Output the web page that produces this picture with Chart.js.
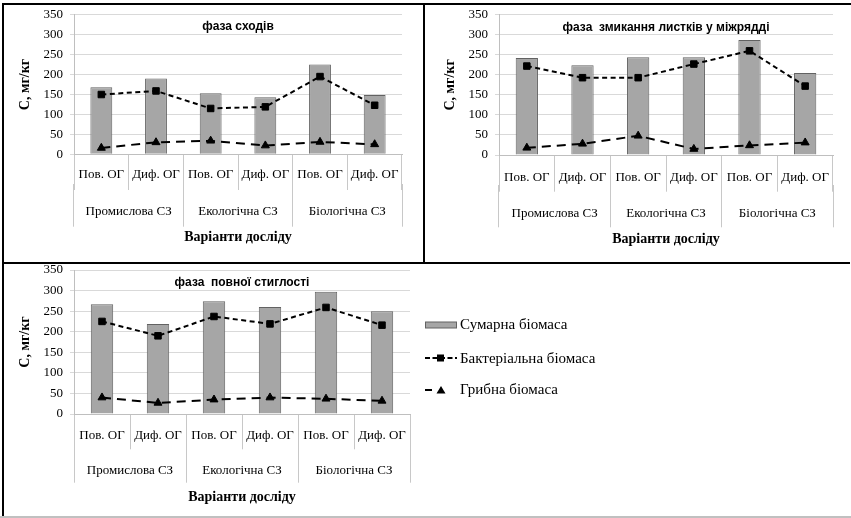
<!DOCTYPE html>
<html><head><meta charset="utf-8">
<script src="https://cdn.jsdelivr.net/npm/chart.js@4"></script>
<style>
html,body{margin:0;padding:0;background:#fff;}
body{width:851px;height:518px;position:relative;overflow:hidden;font-family:'Liberation Serif',serif;}
canvas{position:absolute;}
.ln{position:absolute;z-index:3;}
.lg{position:absolute;left:424px;height:20px;display:flex;align-items:center;font-size:15px;color:#000;white-space:nowrap;}
.lg svg{width:36px;height:14px;display:block;}
</style></head><body>
<canvas id="c1" width="418" height="262" style="left:5px;top:0px"></canvas>
<canvas id="c2" width="425" height="262" style="left:426px;top:0px"></canvas>
<canvas id="c3" width="420" height="262" style="left:5px;top:255px"></canvas>
<div class="ln" style="left:3px;top:3px;width:848px;height:2px;background:#000"></div>
<div class="ln" style="left:2px;top:3px;width:2px;height:514px;background:#000"></div>
<div class="ln" style="left:423px;top:3px;width:2px;height:261px;background:#000"></div>
<div class="ln" style="left:3px;top:262px;width:847px;height:2px;background:#000"></div>
<div class="ln" style="left:0px;top:516px;width:851px;height:2px;background:#c0c0c0"></div>
<div id="legend"></div>
<script>
// ---- data ----
const categories = ['Пов. ОГ', 'Диф. ОГ', 'Пов. ОГ', 'Диф. ОГ', 'Пов. ОГ', 'Диф. ОГ'];
const groups = ['Промислова СЗ', 'Екологічна СЗ', 'Біологічна СЗ'];
const seriesNames = ['Сумарна біомаса', 'Бактеріальна біомаса', 'Грибна біомаса'];
const stageTitles = ['фаза сходів', 'фаза  змикання листків у міжрядді', 'фаза  повної стиглості'];
const xAxisTitle = 'Варіанти досліду';
const yAxisTitle = 'С, мг/кг';
const yMin = 0, yMax = 350, yStep = 50;

const totalStage1 = [168, 190, 153, 143, 225, 149];
const bacterialStage1 = [150, 159, 115, 119, 195, 123];
const fungalStage1 = [16, 30, 34, 22, 31, 25];

const totalStage2 = [242, 224, 244, 244, 287, 205];
const bacterialStage2 = [222, 193, 193, 227, 260, 172];
const fungalStage2 = [18, 28, 48, 15, 24, 31];

const totalStage3 = [267, 219, 274, 260, 297, 250];
const bacterialStage3 = [225, 190, 237, 219, 259, 216];
const fungalStage3 = [40, 27, 35, 40, 37, 32];

// ---- styling ----
Chart.defaults.font.family = "'Liberation Serif', 'Times New Roman', serif";
Chart.defaults.color = '#000';
const barFill = '#a6a6a6', barEdge = '#626262';
const gridCol = '#d9d9d9', catLineCol = '#c8c8c8', axisCol = '#bfbfbf';

function makeChart(id, title, total, bact, fung, g) {
  const W = g.w, H = g.h;
  const lh = 13 * 1.2;
  const tickLenX = g.catLineEnd - g.plotBottom;
  const xH = 30;
  const x2Top = g.plotBottom + xH;
  const tickLenX2 = g.grpLineEnd - x2Top;
  const tPadTop = g.chartTitleY - g.plotTop - 7.2;
  return new Chart(document.getElementById(id), {
    type: 'bar',
    data: {
      labels: categories,
      datasets: [
        {type: 'line', label: seriesNames[1], data: bact, borderColor: '#000', borderWidth: 2,
         borderDash: [5, 3.5], pointStyle: 'rect', pointRadius: 4.6, pointBackgroundColor: '#000',
         pointBorderColor: '#000', pointBorderWidth: 1, tension: 0, fill: false, order: 1},
        {type: 'line', label: seriesNames[2], data: fung, borderColor: '#000', borderWidth: 2,
         borderDash: [9, 6], pointStyle: 'triangle', pointRadius: 4.6, pointBackgroundColor: '#000',
         pointBorderColor: '#000', pointBorderWidth: 1, tension: 0, fill: false, order: 1},
        {type: 'bar', label: seriesNames[0], data: total, backgroundColor: barFill, borderColor: barEdge,
         borderWidth: 1, barPercentage: 0.4, categoryPercentage: 1, order: 2}
      ]
    },
    options: {
      responsive: false, animation: false, devicePixelRatio: 1,
      layout: {padding: {top: g.plotTop, right: W - g.plotRight, bottom: 0, left: 0}},
      plugins: {
        legend: {display: false}, tooltip: {enabled: false},
        title: {display: true, text: title, fullSize: g.fullTitle, color: '#000',
          font: {family: "'Liberation Sans', Arial, sans-serif", weight: 'bold', size: 12, lineHeight: 1.2},
          padding: {top: tPadTop, bottom: -(tPadTop + 14.4)}}
      },
      scales: {
        x: {type: 'category', position: 'bottom', offset: true,
          grid: {offset: true, drawOnChartArea: false, drawTicks: true, tickLength: tickLenX, color: catLineCol},
          border: {display: true, color: axisCol},
          ticks: {font: {size: 13}, padding: g.catLabelY - lh / 2 - g.plotBottom - tickLenX,
            maxRotation: 0, minRotation: 0, autoSkip: false},
          afterFit(s) { s.height = xH; }},
        x2: {type: 'category', position: 'bottom', labels: groups, offset: true,
          grid: {offset: true, drawOnChartArea: false, drawTicks: true, tickLength: tickLenX2, color: catLineCol},
          border: {display: false},
          ticks: {font: {size: 13}, padding: g.grpLabelY - lh / 2 - x2Top - tickLenX2,
            maxRotation: 0, minRotation: 0, autoSkip: false},
          title: {display: true, text: xAxisTitle, font: {size: 14, weight: 'bold'},
            padding: {top: 0, bottom: H - g.titleY - 8.4}},
          afterFit(s) { s.height = H - x2Top; }},
        y: {min: yMin, max: yMax,
          ticks: {stepSize: yStep, padding: 7, font: {size: 13}},
          grid: {color: gridCol, tickLength: 4},
          border: {color: axisCol},
          title: {display: true, text: yAxisTitle, font: {size: 14, weight: 'bold'},
            padding: {top: g.yTitleX - 8.4, bottom: 0}},
          afterFit(s) { s.width = g.plotLeft; }}
      }
    }
  });
}

makeChart('c1', stageTitles[0], totalStage1, bacterialStage1, fungalStage1,
  {w: 418, h: 262, plotTop: 12.3, plotBottom: 154.3, plotLeft: 69, plotRight: 397,
   catLabelY: 174.3, catLineEnd: 190, grpLabelY: 211.7, grpLineEnd: 226.7, titleY: 237.5,
   yTitleX: 20, chartTitleY: 24.3, fullTitle: false});
makeChart('c2', stageTitles[1], totalStage2, bacterialStage2, fungalStage2,
  {w: 425, h: 262, plotTop: 13.3, plotBottom: 155, plotLeft: 73, plotRight: 407,
   catLabelY: 177.3, catLineEnd: 191.7, grpLabelY: 213.3, grpLineEnd: 227.3, titleY: 239.3,
   yTitleX: 24, chartTitleY: 26, fullTitle: false});
makeChart('c3', stageTitles[2], totalStage3, bacterialStage3, fungalStage3,
  {w: 420, h: 262, plotTop: 15, plotBottom: 159, plotLeft: 69, plotRight: 405,
   catLabelY: 180.7, catLineEnd: 194.3, grpLabelY: 215.7, grpLineEnd: 227.7, titleY: 242.3,
   yTitleX: 20, chartTitleY: 27.7, fullTitle: false});

// ---- legend (HTML text, SVG swatches) ----
const swatches = [
  '<svg viewBox="0 0 36 14"><rect x="1.5" y="4" width="31" height="6" fill="' + barFill + '" stroke="' + barEdge + '" stroke-width="1"/></svg>',
  '<svg viewBox="0 0 36 14"><line x1="1" y1="7" x2="33" y2="7" stroke="#000" stroke-width="2" stroke-dasharray="5,2.5"/><rect x="13" y="3.5" width="7" height="7" fill="#000"/></svg>',
  '<svg viewBox="0 0 36 14"><line x1="1" y1="7" x2="8" y2="7" stroke="#000" stroke-width="2"/><polygon points="17,3 21.5,10.5 12.5,10.5" fill="#000"/></svg>'
];
const legendCenters = [324.5, 358, 389.5];
const lg = document.getElementById('legend');
seriesNames.forEach((n, i) => {
  const d = document.createElement('div');
  d.className = 'lg';
  d.style.top = (legendCenters[i] - 10) + 'px';
  d.innerHTML = swatches[i] + '<span>' + n + '</span>';
  lg.appendChild(d);
});
</script>
</body></html>
